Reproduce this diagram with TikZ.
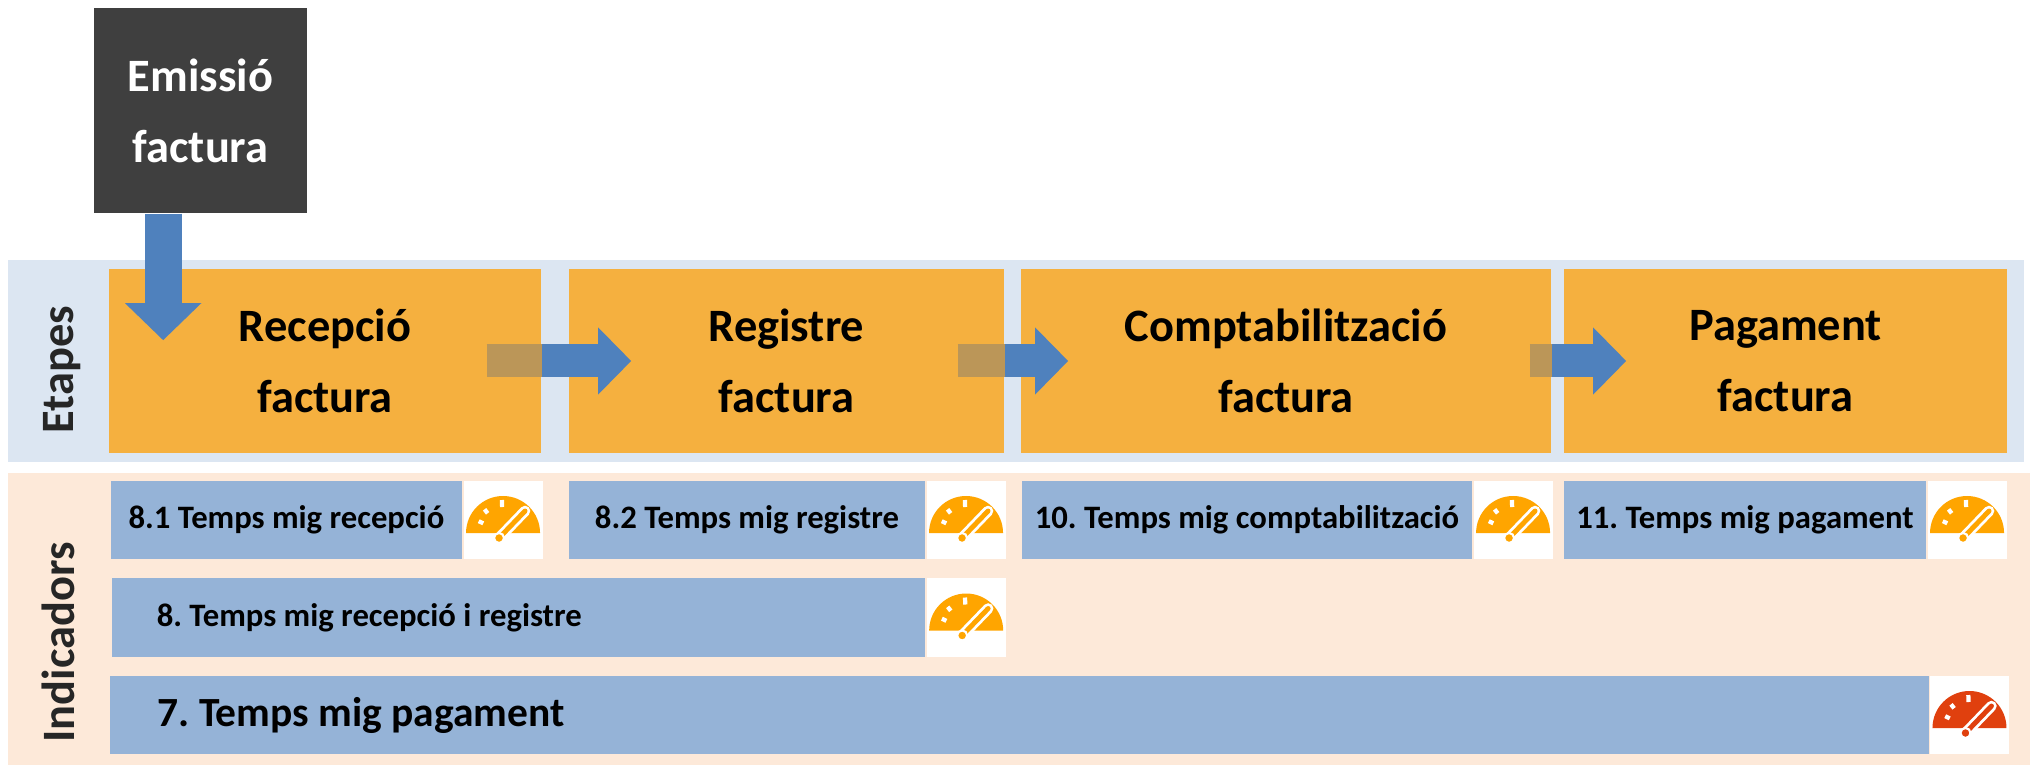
\documentclass[tikz,border=0pt]{standalone}
\usepackage{fontspec}
\setmainfont{Carlito}
\frenchspacing
\usetikzlibrary{arrows.meta, positioning}

\definecolor{bandblue}{HTML}{DCE6F2}
\definecolor{bandpeach}{HTML}{FDE9D9}
\definecolor{stageorange}{HTML}{F5B03F}
\definecolor{underorange}{HTML}{BB9658}
\definecolor{indblue}{HTML}{95B3D7}
\definecolor{flowblue}{HTML}{4F81BD}
\definecolor{emisgray}{HTML}{3F3F3F}
\definecolor{labelgray}{HTML}{262626}
\definecolor{gaugeorange}{HTML}{FFA500}
\definecolor{gaugered}{HTML}{E0400E}

\tikzset{
  pics/gauge/.style={code={
    \begin{scope}[y=0.01cm]
      \fill[#1] (-37,0) arc[start angle=180, end angle=0, radius=37] -- cycle;
      \foreach \ang/\ra/\rb in {154/22/27, 128/25/30, 92/26/33}
        \draw[white, line width=1.2pt] (\ang:\ra) -- (\ang:\rb);
      \draw[white, line width=3pt, line cap=round] (-4,-5) -- (22,22);
      \draw[#1, line width=1.4pt, line cap=round] (-4,-5) -- (22,22);
      \filldraw[fill=#1, draw=white, line width=0.6pt] (-4,-5) circle[radius=5];
    \end{scope}
  }}
}

\begin{document}
\begin{tikzpicture}[x=0.01cm, y=-0.01cm,
  stage/.style={fill=stageorange, minimum width=#1, minimum height=1.84cm, inner sep=0pt,
    align=center, font=\fontsize{13.2}{20.2}\selectfont\bfseries},
  ind/.style={fill=indblue, minimum height=0.78cm, inner sep=0pt,
    font=\fontsize{9.3}{11}\selectfont\bfseries},
  icon/.style={fill=white, minimum width=0.79cm, minimum height=0.78cm, inner sep=0pt},
  flow/.style={draw=flowblue, line width=0.33cm, -{Triangle[length=0.33cm, width=0.65cm]}},
  band/.style={rotate=90, anchor=base, text=labelgray, font=\fontsize{13.2}{16}\selectfont\bfseries}]
	\useasboundingbox (0,0) rectangle (2034,765);
	\fill[bandblue] (8,260) rectangle (2024,462);
	\fill[bandpeach] (8,473) rectangle (2030,765);
	\node[band] (etapes) at (73,369.5) {Etapes};
	\node[band] (indic) at (74,642.5) {Indicadors};
	% etapes
	\node[fill=emisgray, text=white, minimum width=2.13cm, minimum height=2.05cm, inner sep=0pt,
	  align=center, font=\fontsize{13.2}{20.2}\selectfont\bfseries] (emis) at (200.5,110.5) {Emissió\\factura};
	\node[stage=4.32cm] (rec) at (325,361) {Recepció\\factura};
	\node[stage=4.35cm] (reg) at (786.5,361) {Registre\\factura};
	\node[stage=5.30cm] (comp) at (1286,361) {Comptabilització\\factura};
	\node[stage=4.43cm] (pag) at (1785.5,361) {Pagament\\factura};
	\coordinate (recin) at ([shift={(55,72)}]rec.north west);
	\draw[flow, line width=0.37cm, -{Triangle[length=0.37cm, width=0.74cm]}] (emis.south -| recin) -- (recin);
	\draw[flow] ([xshift=-0.55cm]rec.east) -- ([xshift=0.63cm]reg.west);
	\draw[flow] ([xshift=-0.47cm]reg.east) -- ([xshift=0.48cm]comp.west);
	\draw[flow] ([xshift=-0.22cm]comp.east) -- ([xshift=0.63cm]pag.west);
	\fill[underorange] ([shift={(-55,-16.5)}]rec.east) rectangle ([yshift=-0.165cm]rec.east);
	\fill[underorange] ([shift={(-47,-16.5)}]reg.east) rectangle ([yshift=-0.165cm]reg.east);
	\fill[underorange] ([shift={(-22,-16.5)}]comp.east) rectangle ([yshift=-0.165cm]comp.east);
	% indicadors
	\node[ind, minimum width=3.51cm] (t81) at (286.5,520) {8.1 Temps mig recepció};
	\node[icon, right=0pt of t81] (g81) {};
	\node[ind, minimum width=3.56cm] (t82) at (747,520) {8.2 Temps mig registre};
	\node[icon, right=0pt of t82] (g82) {};
	\node[ind, minimum width=4.50cm] (t10) at (1247,520) {10. Temps mig comptabilització};
	\node[icon, right=0pt of t10] (g10) {};
	\node[ind, minimum width=3.62cm] (t11) at (1745,520) {11. Temps mig pagament};
	\node[icon, right=0pt of t11] (g11) {};
	\node[ind, text width=7.23cm, inner xsep=0.45cm, align=flush left] (t8) at (518.5,617.5) {8. Temps mig recepció i registre};
	\node[icon, right=0pt of t8] (g8) {};
	\node[ind, text width=17.23cm, inner xsep=0.47cm, align=flush left,
	  font=\fontsize{11.8}{14}\selectfont\bfseries] (t7) at (1019.5,715) {7. Temps mig pagament};
	\node[icon, right=0pt of t7] (g7) {};
	\foreach \g in {g81, g82, g10, g11, g8}
	  \pic at ([yshift=-0.13cm]\g.center) {gauge=gaugeorange};
	\pic at ([yshift=-0.13cm]g7.center) {gauge=gaugered};
\end{tikzpicture}
\end{document}
